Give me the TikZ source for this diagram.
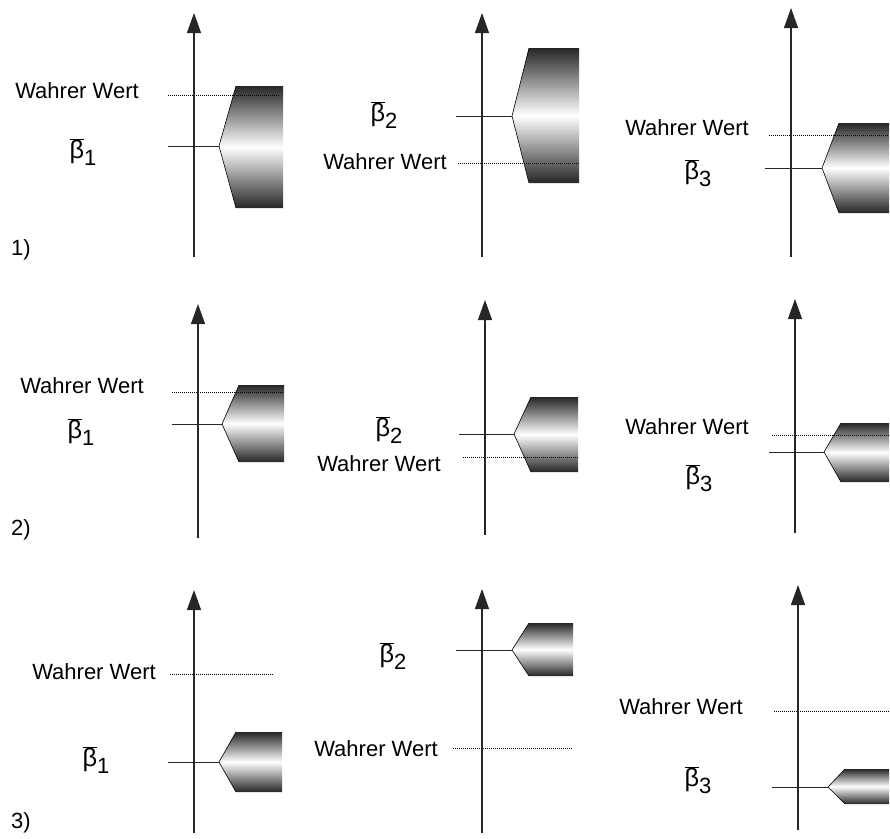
\documentclass[tikz,border=0pt]{standalone}
\usepackage{fontspec}
\setmainfont{Liberation Sans}
\usetikzlibrary{arrows.meta}

\newcommand{\bbar}[1]{$\overline{\mbox{\scalebox{1.15}{β}}}$\raisebox{-0.6ex}{#1}}

\begin{document}
\begin{tikzpicture}[x=1pt,y=-1pt,
    axis/.style={line width=1.2pt,black!85,-{Triangle[length=20pt,width=14pt]}},
    estline/.style={line width=0.9pt,black!85},
    truline/.style={line width=0.7pt,dash pattern=on 1pt off 1pt},
    band/.style={top color=black!85,bottom color=black!85,middle color=white},
    lbl/.style={font=\fontsize{22}{26}\selectfont,inner sep=0pt}]
    \useasboundingbox (0,0) rectangle (890,838);
    \foreach \p/\i/\ax/\at/\ab/\by/\tx/\st/\sb/\sr/\dy/\dl/\dr/\wx/\wy/\lx/\ly in {
        a/1/194/13/257/146/219/86/208/283/95/168/280/77/91/83/152,
        b/2/482/13/257/116/512/48/183/579/163/458/579/385/162/384/115,
        c/3/791/8/257/168/822/123/213/889/135/769/889/687/128/698/173,
        d/1/198/304/538/424/222/385/462/284/392/172/284/82/386/81/432,
        e/2/485/300/535/434/514/397/472/578/457/463/578/379/464/389/430,
        f/3/795/299/533/452/824/423/482/889/435/772/889/687/427/699/478,
        g/1/194/590/833/762/219/732/792/282/674/170/273/94/672/96/760,
        h/2/482/589/833/650/512/623/676/573/748/453/573/376/749/393/656,
        i/3/798/585/830/787/828/769/804/889/711/774/889/681/707/698/780}{
        % Schaetzband
        \shade[band] (\tx,\by) -- ({\tx+17},\st) -- (\sr,\st) -- (\sr,\sb) -- ({\tx+17},\sb) -- cycle;
        \draw[line width=0.6pt] ({\tx+17},\st) -- (\tx,\by) -- ({\tx+17},\sb);
        \draw[truline] (\dl,\dy) -- (\dr,\dy);
        \draw[estline] ({\ax-26},\by) -- (\tx,\by);
        \draw[axis] (\ax,\ab) -- (\ax,\at);
        \node[lbl] (ww\p) at (\wx,\wy) {Wahrer Wert};
        \node[lbl] (beta\p) at (\lx,\ly) {\bbar{\i}};
    }
    \foreach \i/\y in {1/250,2/530,3/823}
        \node[lbl] (row\i) at (21,\y) {\i)};
\end{tikzpicture}
\end{document}
